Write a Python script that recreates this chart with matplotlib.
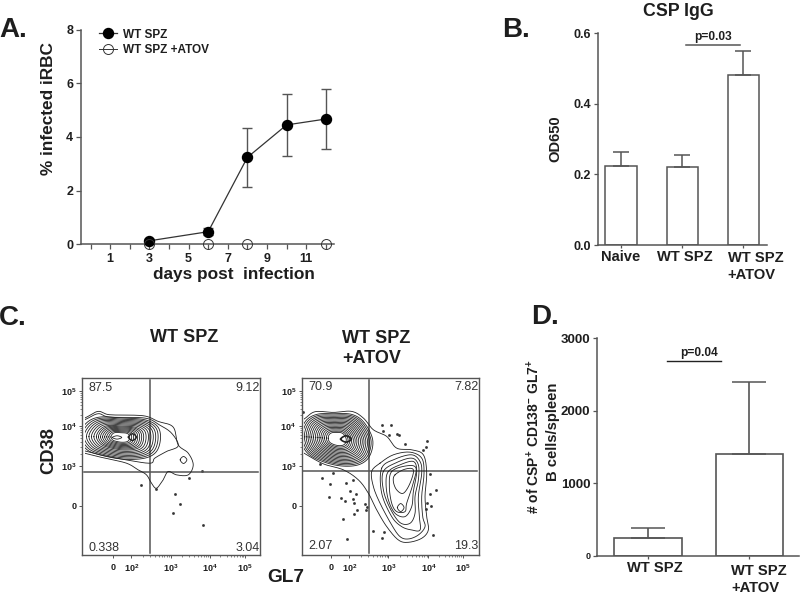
import numpy as np
import matplotlib
matplotlib.use("Agg")
import matplotlib.pyplot as plt
from matplotlib.patches import Rectangle

plt.rcParams['font.family'] = ['Liberation Sans', 'DejaVu Sans']
plt.rcParams['font.weight'] = 'bold'
plt.rcParams['mathtext.fontset'] = 'custom'
plt.rcParams['mathtext.rm'] = 'Liberation Sans:bold'
plt.rcParams['mathtext.default'] = 'rm'

W, H = 800, 594
INK = '#1e1e1e'
AX = '#555555'
fig = plt.figure(figsize=(8, 5.94), dpi=100, facecolor='white')


def box(l, t, r, b):
    return fig.add_axes([l / W, 1 - b / H, (r - l) / W, (b - t) / H])


def label(px, py, s, size, **kw):
    kw.setdefault('ha', 'center')
    kw.setdefault('va', 'center')
    kw.setdefault('color', INK)
    fig.text(px / W, 1 - py / H, s, fontsize=size, **kw)


# Panel A data
days_wt = [3, 6, 8, 10, 12]
infected_wt = [0.13, 0.47, 3.24, 4.45, 4.67]
infected_err = [0.05, 0.12, 1.11, 1.16, 1.12]
days_atov = [3, 6, 8, 12]
infected_atov = [0, 0, 0, 0]
a_xticks = [1, 3, 5, 7, 9, 11]
a_yticks = [0, 2, 4, 6, 8]

# Panel B data
b_groups = ['Naive', 'WT SPZ', 'WT SPZ\n+ATOV']
b_values = [0.224, 0.220, 0.482]
b_errors = [0.039, 0.035, 0.069]
b_yticks = [0.0, 0.2, 0.4, 0.6]

# Panel D data
d_groups = ['WT SPZ', 'WT SPZ\n+ATOV']
d_values = [240, 1400]
d_errors = [140, 1000]
d_yticks = [0, 1000, 2000, 3000]

# Panel C: display channels (x right, y down)
c_left_box = (157, 689, 645, 115)
c_right_box = (65, 596, 645, 115)
c_left_gate = (361, 395)
c_right_gate = (268, 394)
c_left_xticks = [249, 305, 422, 540, 645]
c_right_xticks = [153, 208, 325, 445, 548]
c_yticks = [497, 378, 258, 155]
c_xtick_text = ['0', '$10^{2}$', '$10^{3}$', '$10^{4}$', '$10^{5}$']
c_ytick_text = ['0', '$10^{3}$', '$10^{4}$', '$10^{5}$']
c_titles = ['WT SPZ', 'WT SPZ\n+ATOV']
c_left_pct = ['87.5', '9.12', '0.338', '3.04']
c_right_pct = ['70.9', '7.82', '2.07', '19.3']

c_left_dots_x = [335, 378, 436, 450, 430, 519, 515, 476]
c_left_dots_y = [434, 448, 462, 491, 520, 555, 393, 413]
c_right_dots_x = [70, 307, 333, 310, 328, 352, 358, 375, 440, 437, 428, 120, 125, 158, 150, 197,
                  220, 210, 147, 182, 195, 218, 222, 228, 255, 262, 257, 230, 222, 190, 200, 278,
                  305, 312, 450, 467, 450, 453, 440, 437, 460]
c_right_dots_y = [217, 255, 256, 273, 287, 282, 287, 312, 303, 322, 330, 372, 414, 400, 433, 430,
                  420, 453, 470, 474, 482, 478, 488, 463, 492, 500, 510, 509, 522, 538, 596, 573,
                  593, 577, 403, 449, 462, 498, 490, 507, 584]

# traced contour outlines: left plot
c_left_outer_x = [120, 165, 205, 240, 340, 385, 430, 445, 475, 490, 475, 440, 415, 400, 380, 365, 350, 325, 290, 225, 165, 120]
c_left_outer_y = [250, 235, 215, 225, 228, 245, 262, 315, 340, 375, 405, 405, 395, 420, 445, 430, 405, 390, 370, 355, 340, 325]
c_left_second_x = [120, 165, 205, 240, 345, 388, 425, 445, 410, 375, 362, 300, 225, 165, 120]
c_left_second_y = [255, 240, 222, 232, 235, 255, 280, 318, 335, 355, 370, 362, 348, 333, 320]
c_left_blob_x = [148, 170, 210, 280, 345, 383, 392, 380, 345, 280, 210, 170]
c_left_blob_y = [290, 250, 232, 235, 240, 260, 295, 335, 355, 358, 345, 328]
c_left_center = (272, 292)
c_left_scales = [1.0, 0.94, 0.88, 0.82, 0.76, 0.70, 0.64, 0.58, 0.53, 0.48, 0.43, 0.38, 0.33, 0.28, 0.23]
c_left_small_x = [451, 461, 471, 461]
c_left_small_y = [360, 350, 360, 371]
c_left_peak_x = [296, 308, 320, 308]
c_left_peak_y = [292, 282, 292, 302]
c_left_peak2_x = [248, 262, 276, 262]
c_left_peak2_y = [293, 288, 293, 298]

# traced contour outlines: right plot
c_right_outer_x = [40, 72, 105, 160, 215, 250, 280, 320, 350, 395, 430, 440, 435, 440, 445, 425, 385, 355, 320, 290, 265, 235, 190, 130, 72, 40]
c_right_outer_y = [255, 238, 216, 218, 215, 235, 270, 290, 325, 330, 345, 400, 470, 530, 570, 595, 607, 600, 560, 510, 460, 420, 390, 372, 340, 320]
c_right_blob_x = [62, 76, 110, 160, 215, 252, 278, 268, 235, 180, 120, 78]
c_right_blob_y = [290, 245, 224, 222, 224, 248, 300, 350, 375, 378, 362, 335]
c_right_center = (172, 297)
c_right_scales = [1.0, 0.95, 0.90, 0.85, 0.80, 0.75, 0.70, 0.65, 0.60, 0.55, 0.50, 0.45, 0.40, 0.35, 0.30, 0.25]
c_right_peak_x = [182, 198, 214, 198]
c_right_peak_y = [298, 288, 298, 307]
c_right_lobes_x = [
    [300, 340, 390, 425, 432, 425, 428, 435, 415, 385, 360, 335, 300, 280, 275],
    [305, 345, 395, 420, 425, 415, 418, 420, 395, 365, 335, 305],
    [310, 350, 395, 415, 415, 405, 405, 390, 360, 330, 310],
    [325, 360, 400, 410, 400, 395, 375, 345, 325, 318],
    [335, 380, 408, 398, 380, 375, 350, 335, 328],
    [345, 375, 400, 390, 370, 350, 340],
    [352, 362, 372, 362],
]
c_right_lobes_y = [
    [370, 345, 337, 355, 400, 470, 530, 560, 585, 597, 590, 555, 490, 440, 395],
    [385, 358, 345, 365, 400, 470, 530, 570, 570, 560, 530, 460],
    [395, 368, 355, 375, 420, 470, 520, 550, 548, 505, 450],
    [395, 375, 365, 395, 455, 500, 530, 520, 480, 430],
    [395, 378, 385, 435, 490, 515, 515, 490, 440],
    [405, 388, 390, 430, 460, 450, 425],
    [503, 491, 503, 515],
]


def smooth(xs, ys, n=10):
    """Closed Catmull-Rom curve through the traced points."""
    p = np.column_stack([xs, ys]).astype(float)
    t = np.linspace(0, 1, n, endpoint=False)[:, None]
    out = []
    for i in range(len(p)):
        p0, p1, p2, p3 = p[i - 1], p[i], p[(i + 1) % len(p)], p[(i + 2) % len(p)]
        out.append(0.5 * (2 * p1 + (p2 - p0) * t + (2 * p0 - 5 * p1 + 4 * p2 - p3) * t ** 2
                          + (3 * p1 - p0 - 3 * p2 + p3) * t ** 3))
    out = np.vstack(out)
    return np.vstack([out, out[:1]])


def style(ax):
    for s in ('top', 'right'):
        ax.spines[s].set_visible(False)
    for s in ('left', 'bottom'):
        ax.spines[s].set_color(AX)
        ax.spines[s].set_linewidth(1.1)
    ax.patch.set_alpha(0)


# ---------- A
ax = box(81, 29.7, 334, 244.3)
style(ax)
ax.set_xlim(-0.49, 12.42)
ax.set_ylim(0, 8)
ax.errorbar(days_wt, infected_wt, yerr=infected_err, color='#333333', lw=0.9, elinewidth=1.0,
            ecolor='#555555', capsize=3.6, capthick=1.0, marker='o', ms=7.2, mfc='black',
            mec='black', clip_on=False, zorder=4)
ax.plot(days_atov, infected_atov, ls='none', marker='o', ms=7.2, mfc='none', mec='#333333',
        mew=0.7, clip_on=False, zorder=5)
ax.set_xticks(a_xticks)
ax.set_xticks(range(0, 13), minor=True)
ax.set_yticks(a_yticks)
ax.tick_params(axis='both', which='major', labelsize=9, length=3.5, width=0.9, color=AX,
               labelcolor=INK, pad=2)
ax.tick_params(axis='x', which='minor', length=3.5, width=0.9, color=AX)
ax.tick_params(axis='x', which='major', pad=3)
h1, = ax.plot([], [], color='#333333', lw=0.9, marker='o', ms=7.2, mfc='black', mec='black')
h2, = ax.plot([], [], color='#333333', lw=0.7, marker='o', ms=7.2, mfc='none', mec='#333333', mew=0.7)
ax.legend([h1, h2], ['WT SPZ', 'WT SPZ +ATOV'], frameon=False, fontsize=8.5,
          loc='upper left', bbox_to_anchor=(0.072, 1.005), handlelength=1.5, handletextpad=0.55,
          labelspacing=0.3, labelcolor=INK, borderpad=0, borderaxespad=0)
label(234, 274, 'days post  infection', 12.4)
label(49, 108, '% infected iRBC', 12.4, rotation=90)
label(13, 30, 'A.', 20)

# ---------- B
ax = box(597.7, 33.3, 766.7, 245)
style(ax)
ax.set_xlim(-0.38, 2.38)
ax.set_ylim(0, 0.6)
ax.bar(range(3), b_values, width=0.508, facecolor='white', edgecolor=AX, lw=1.1,
       yerr=[[0] * 3, b_errors], ecolor=AX, capsize=5.6,
       error_kw=dict(elinewidth=1.1, capthick=1.1))
ax.set_xticks(range(3))
ax.set_xticklabels([])
ax.set_yticks(b_yticks)
ax.tick_params(axis='y', labelsize=9, length=3, width=0.9, color=AX, labelcolor=INK, pad=2)
ax.tick_params(axis='x', length=2.5, width=0.9, color=AX)
ax.plot([1.07, 1.95], [0.567, 0.567], color=AX, lw=1.1, clip_on=False)
ax.text(1.5, 0.572, 'p=0.03', ha='center', va='bottom', fontsize=8.6, color=INK)
label(621, 257, b_groups[0], 10.6)
label(685, 257, b_groups[1], 10.6)
label(727.5, 266.5, b_groups[2], 10.6, ha='left', multialignment='left', linespacing=1.2)
label(555, 139, 'OD650', 10.6, rotation=90)
label(678, 11, 'CSP IgG', 12.8)
label(516, 30, 'B.', 20)


# ---------- C
def flow(ax_box, bounds, gate, xticks, pct, dots, pct_y):
    ax = box(*ax_box)
    ax.set_xlim(bounds[0], bounds[1])
    ax.set_ylim(bounds[2], bounds[3])
    for s in ax.spines.values():
        s.set_color(AX)
        s.set_linewidth(1.0)
    ax.plot(dots[0], dots[1], ls='none', marker='s', ms=0.9, color='#333333')
    ax.axvline(gate[0], color=AX, lw=1.1, ymin=0.01, ymax=0.99)
    ax.axhline(gate[1], color=AX, lw=1.1, xmin=0.01, xmax=0.99)
    ax.set_xticks(xticks)
    ax.set_xticklabels(c_xtick_text, fontsize=6.5, color=INK)
    ax.set_yticks(c_yticks)
    ax.set_yticklabels(c_ytick_text, fontsize=6.5, color=INK)
    kx = np.log10(np.arange(2, 10))
    xminor = np.concatenate([xticks[i] + kx * (xticks[i + 1] - xticks[i]) for i in (1, 2, 3)])
    yminor = np.concatenate([c_yticks[i] + kx * (c_yticks[i + 1] - c_yticks[i]) for i in (1, 2)])
    ax.set_xticks(xminor, minor=True)
    ax.set_yticks(yminor, minor=True)
    ax.tick_params(axis='both', which='major', length=2.5, width=0.7, color=AX, pad=1.5)
    ax.tick_params(axis='x', which='major', pad=3)
    ax.tick_params(axis='both', which='minor', length=1.3, width=0.5, color=AX)
    kw = dict(transform=ax.transAxes, fontsize=9, fontweight='normal', color='#333333', va='center')
    ax.text(0.035, pct_y[0], pct[0], **kw)
    ax.text(1.0, pct_y[0], pct[1], ha='right', **kw)
    ax.text(0.035, pct_y[1], pct[2], **kw)
    ax.text(1.0, pct_y[1], pct[3], ha='right', **kw)
    return ax


def outline(ax, xs, ys, clip_x, lw=0.6):
    p = smooth(xs, ys)
    line, = ax.plot(p[:, 0], p[:, 1], color='#222222', lw=lw)
    clip = Rectangle((clip_x, 0), 1000, 1000, transform=ax.transData)
    line.set_clip_path(clip)


def rings(ax, xs, ys, center, scales, clip_x):
    for s in scales:
        outline(ax, center[0] + s * (np.array(xs) - center[0]),
                center[1] + s * (np.array(ys) - center[1]), clip_x)


ax = flow((82, 378, 259.7, 555), c_left_box, c_left_gate, c_left_xticks, c_left_pct,
          (c_left_dots_x, c_left_dots_y), (0.943, 0.04))
outline(ax, c_left_outer_x, c_left_outer_y, 165)
outline(ax, c_left_second_x, c_left_second_y, 165)
rings(ax, c_left_blob_x, c_left_blob_y, c_left_center, c_left_scales, 165)
outline(ax, c_left_small_x, c_left_small_y, 165)
outline(ax, c_left_peak_x, c_left_peak_y, 165, lw=1.0)
outline(ax, c_left_peak2_x, c_left_peak2_y, 165)

ax = flow((301.7, 378, 478.7, 555), c_right_box, c_right_gate, c_right_xticks, c_right_pct,
          (c_right_dots_x, c_right_dots_y), (0.95, 0.05))
outline(ax, c_right_outer_x, c_right_outer_y, 72)
rings(ax, c_right_blob_x, c_right_blob_y, c_right_center, c_right_scales, 72)
for lx, ly in zip(c_right_lobes_x, c_right_lobes_y):
    outline(ax, lx, ly, 72)
outline(ax, c_right_peak_x, c_right_peak_y, 72, lw=1.2)

label(184, 338, c_titles[0], 13)
label(342.5, 348.5, c_titles[1], 13, ha='left', multialignment='left', linespacing=1.25)
label(49, 451, 'CD38', 13.2, rotation=90)
label(286, 577, 'GL7', 13.7)
label(13, 318, 'C.', 20)

# ---------- D
ax = box(597.3, 338.3, 799, 555.7)
style(ax)
ax.set_xlim(-0.498, 1.49)
ax.set_ylim(0, 3000)
ax.bar(range(2), d_values, width=0.664, facecolor='white', edgecolor=AX, lw=1.2,
       yerr=[[0] * 2, d_errors], ecolor=AX, capsize=12.3,
       error_kw=dict(elinewidth=1.2, capthick=1.1))
ax.set_xticks(range(2))
ax.set_xticklabels([])
ax.set_yticks(d_yticks)
ax.tick_params(axis='y', labelsize=9.5, length=3, width=0.9, color=AX, labelcolor=INK, pad=2)
ax.tick_params(axis='x', length=2.5, width=0.9, color=AX)
ax.set_yticklabels([str(v) for v in d_yticks])
ax.get_yticklabels()[0].set_fontsize(6.5)
ax.plot([0.19, 0.72], [2690, 2690], color='#222222', lw=1.0, clip_on=False)
ax.text(0.5, 2710, 'p=0.04', ha='center', va='bottom', fontsize=8.6, color=INK)
label(654.7, 568, d_groups[0], 10.6)
label(731, 579.5, d_groups[1], 10.6, ha='left', multialignment='left', linespacing=1.2)
label(534, 437, '# of CSP$^{+}$ CD138$^{-}$ GL7$^{+}$', 10, rotation=90)
label(553, 432, 'B cells/spleen', 10.6, rotation=90)
label(545, 317, 'D.', 20)

fig.savefig('out.png', dpi=100, facecolor='white')
